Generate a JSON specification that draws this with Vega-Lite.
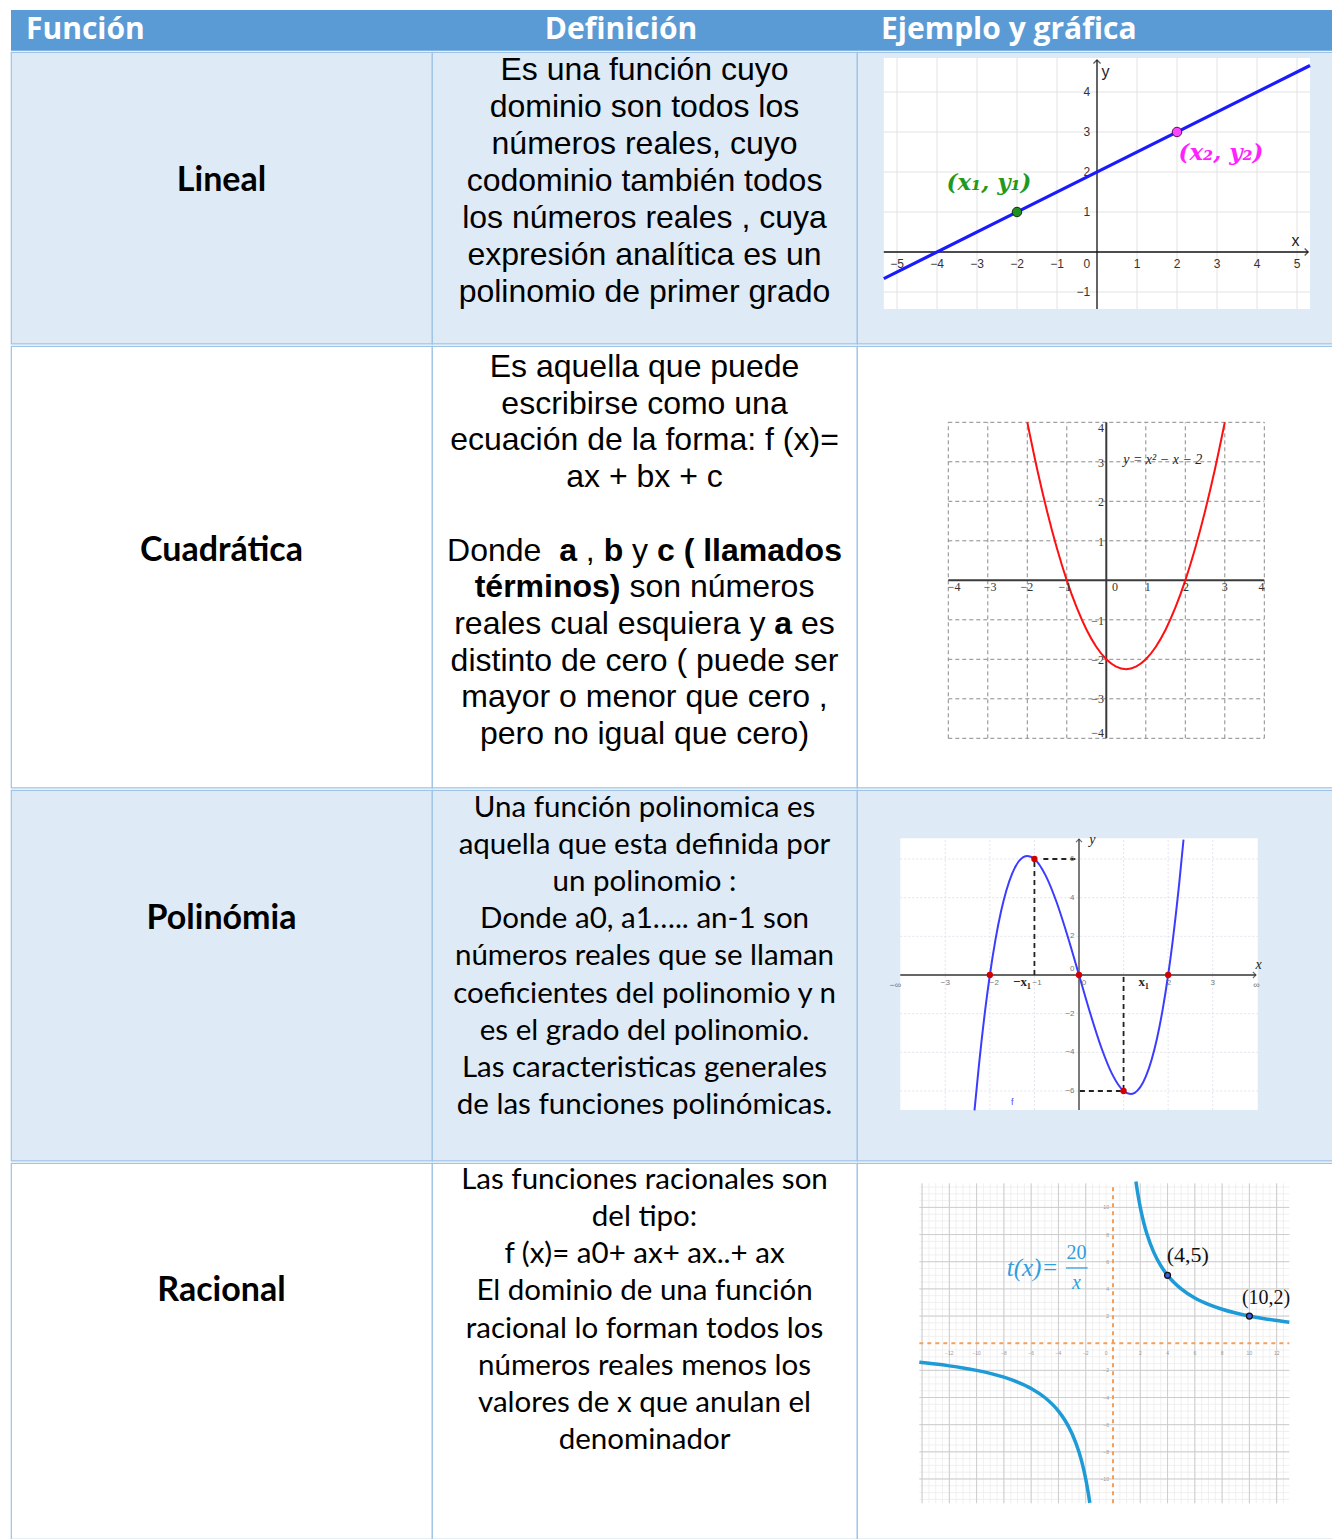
{
"$schema": "https://vega.github.io/schema/vega-lite/v6.json",
"padding": {"left": 10, "top": 10, "right": 0, "bottom": 0},
"background": "#ffffff",
"spacing": 0,
"config": {"view": {"stroke": "#9DC3E6", "strokeWidth": 1.2}, "axis": {"disable": true}, "concat": {"spacing": 0}, "text": {"font": "Liberation Sans"}},
"vconcat": [
{"spacing": 0, "bounds": "flush", "hconcat": [
 {"width": 421, "height": 40.8, "view": {"fill": "#5B9BD5", "stroke": null}, "data": {"values": [{"t": "Función"}]},
  "mark": {"type": "text", "font": "Open Sans", "fontWeight": "bold", "fontSize": 30, "color": "#ffffff", "align": "left", "baseline": "middle", "dx": -195.5},
  "encoding": {"text": {"field": "t", "type": "nominal"}}},
 {"width": 425, "height": 40.8, "view": {"fill": "#5B9BD5", "stroke": null}, "data": {"values": [{"t": "Definición"}]},
  "mark": {"type": "text", "font": "Open Sans", "fontWeight": "bold", "fontSize": 30, "color": "#ffffff", "align": "center", "baseline": "middle", "dx": -23.5},
  "encoding": {"text": {"field": "t", "type": "nominal"}}},
 {"width": 476, "height": 40.8, "view": {"fill": "#5B9BD5", "stroke": null}, "data": {"values": [{"t": "Ejemplo y gráfica"}]},
  "mark": {"type": "text", "font": "Open Sans", "fontWeight": "bold", "fontSize": 30, "color": "#ffffff", "align": "left", "baseline": "middle", "dx": -214},
  "encoding": {"text": {"field": "t", "type": "nominal"}}}
]},
{"spacing": 0, "bounds": "flush", "hconcat": [
 {"width": 421, "height": 291.6, "view": {"fill": "#DEEAF6", "stroke": "#9DC3E6"}, "data": {"values": [{"line": 3, "t": "Lineal"}]},
  "mark": {"type": "text", "font": "Lato", "fontWeight": "bold", "fontSize": 34, "color": "#000000", "baseline": "middle"},
  "encoding": {"y": {"field": "line", "type": "quantitative", "scale": {"domain": [-0.4865, 7.395], "reverse": true, "nice": false, "zero": false}, "axis": null}, "text": {"field": "t", "type": "nominal"}}},
 {"width": 425, "height": 291.6, "view": {"fill": "#DEEAF6", "stroke": "#9DC3E6"}, "data": {"values": [
   {"line": 0, "t": "Es una función cuyo"},
   {"line": 1, "t": "dominio son todos los"},
   {"line": 2, "t": "números reales, cuyo"},
   {"line": 3, "t": "codominio también todos"},
   {"line": 4, "t": "los números reales , cuya"},
   {"line": 5, "t": "expresión analítica es un"},
   {"line": 6, "t": "polinomio de primer grado"}]},
  "mark": {"type": "text", "font": "Liberation Sans", "fontSize": 32, "color": "#000000", "baseline": "middle"},
  "encoding": {"y": {"field": "line", "type": "quantitative", "scale": {"domain": [-0.4865, 7.395], "reverse": true, "nice": false, "zero": false}, "axis": null}, "text": {"field": "t", "type": "nominal"}}},
 {"width": 476, "height": 291.6, "view": {"fill": "#DEEAF6", "stroke": "#9DC3E6"}, "layer": [
  {"data": {"values": [{"x": -5.33, "x2": 5.325, "y": -1.425, "y2": 4.85}]}, "mark": {"type": "rect", "color": "#ffffff"},
   "encoding": {"x": {"field": "x", "type": "quantitative", "scale": {"domain": [-6, 5.9], "nice": false, "zero": false}, "axis": null}, "x2": {"field": "x2"},
    "y": {"field": "y", "type": "quantitative", "scale": {"domain": [-2.29, 5], "nice": false, "zero": false}, "axis": null}, "y2": {"field": "y2"}}},
  {"data": {"values": [{"x": -5}, {"x": -4}, {"x": -3}, {"x": -2}, {"x": -1}, {"x": 1}, {"x": 2}, {"x": 3}, {"x": 4}, {"x": 5}]}, "mark": {"type": "rule", "color": "#e3e3e3", "strokeWidth": 1},
   "encoding": {"x": {"field": "x", "type": "quantitative", "axis": null}, "y": {"datum": -1.425, "axis": null}, "y2": {"datum": 4.85}}},
  {"data": {"values": [{"y": -1}, {"y": 1}, {"y": 2}, {"y": 3}, {"y": 4}]}, "mark": {"type": "rule", "color": "#e3e3e3", "strokeWidth": 1},
   "encoding": {"y": {"field": "y", "type": "quantitative", "axis": null}, "x": {"datum": -5.33, "axis": null}, "x2": {"datum": 5.325}}},
  {"data": {"values": [{"x": -5.33, "y": 0, "x2": 5.28, "y2": 0}, {"x": 0, "y": -1.425, "x2": 0, "y2": 4.8}]}, "mark": {"type": "rule", "color": "#111111", "strokeWidth": 1.3},
   "encoding": {"x": {"field": "x", "type": "quantitative", "axis": null}, "y": {"field": "y", "type": "quantitative", "axis": null}, "x2": {"field": "x2"}, "y2": {"field": "y2"}}},
  {"data": {"values": [{"x": 5.28, "y": 0}]}, "mark": {"type": "point", "shape": "M-1,-1L0,0L-1,1", "filled": false, "color": "#111111", "size": 50, "strokeWidth": 1.3},
   "encoding": {"x": {"field": "x", "type": "quantitative", "axis": null}, "y": {"field": "y", "type": "quantitative", "axis": null}}},
  {"data": {"values": [{"x": 0, "y": 4.8}]}, "mark": {"type": "point", "shape": "M-1,1L0,0L1,1", "filled": false, "color": "#111111", "size": 50, "strokeWidth": 1.3},
   "encoding": {"x": {"field": "x", "type": "quantitative", "axis": null}, "y": {"field": "y", "type": "quantitative", "axis": null}}},
  {"data": {"values": [{"x": -5.33, "y": -0.665}, {"x": 5.325, "y": 4.6625}]}, "mark": {"type": "line", "color": "#1a1aff", "strokeWidth": 3.2},
   "encoding": {"x": {"field": "x", "type": "quantitative", "axis": null}, "y": {"field": "y", "type": "quantitative", "axis": null}}},
  {"data": {"values": [{"x": -2, "y": 1}]}, "mark": {"type": "point", "filled": true, "fill": "#1f8f1f", "stroke": "#0b330b", "strokeWidth": 1, "size": 90, "opacity": 1},
   "encoding": {"x": {"field": "x", "type": "quantitative", "axis": null}, "y": {"field": "y", "type": "quantitative", "axis": null}}},
  {"data": {"values": [{"x": 2, "y": 3}]}, "mark": {"type": "point", "filled": true, "fill": "#ff44ff", "stroke": "#551155", "strokeWidth": 1, "size": 90, "opacity": 1},
   "encoding": {"x": {"field": "x", "type": "quantitative", "axis": null}, "y": {"field": "y", "type": "quantitative", "axis": null}}},
  {"data": {"values": [{"x": -2.7, "y": 1.72, "t": "(x₁, y₁)"}]}, "mark": {"type": "text", "font": "DejaVu Serif", "fontStyle": "italic", "fontWeight": "bold", "fontSize": 23, "color": "#1f9a1f", "baseline": "middle"},
   "encoding": {"x": {"field": "x", "type": "quantitative", "axis": null}, "y": {"field": "y", "type": "quantitative", "axis": null}, "text": {"field": "t", "type": "nominal"}}},
  {"data": {"values": [{"x": 3.1, "y": 2.48, "t": "(x₂, y₂)"}]}, "mark": {"type": "text", "font": "DejaVu Serif", "fontStyle": "italic", "fontWeight": "bold", "fontSize": 23, "color": "#ff22ff", "baseline": "middle"},
   "encoding": {"x": {"field": "x", "type": "quantitative", "axis": null}, "y": {"field": "y", "type": "quantitative", "axis": null}, "text": {"field": "t", "type": "nominal"}}},
  {"data": {"values": [{"x": -5, "t": "−5"}, {"x": -4, "t": "−4"}, {"x": -3, "t": "−3"}, {"x": -2, "t": "−2"}, {"x": -1, "t": "−1"}, {"x": 1, "t": "1"}, {"x": 2, "t": "2"}, {"x": 3, "t": "3"}, {"x": 4, "t": "4"}, {"x": 5, "t": "5"}]},
   "mark": {"type": "text", "font": "Liberation Sans", "fontSize": 12, "color": "#333333", "baseline": "middle"},
   "encoding": {"x": {"field": "x", "type": "quantitative", "axis": null}, "y": {"datum": -0.29, "axis": null}, "text": {"field": "t", "type": "nominal"}}},
  {"data": {"values": [{"y": 4, "t": "4"}, {"y": 3, "t": "3"}, {"y": 2, "t": "2"}, {"y": 1, "t": "1"}, {"y": -0.29, "t": "0"}, {"y": -1, "t": "−1"}]},
   "mark": {"type": "text", "font": "Liberation Sans", "fontSize": 12, "color": "#333333", "baseline": "middle", "align": "right"},
   "encoding": {"y": {"field": "y", "type": "quantitative", "axis": null}, "x": {"datum": -0.17, "axis": null}, "text": {"field": "t", "type": "nominal"}}},
  {"data": {"values": [{"x": 4.96, "y": 0.28, "t": "x"}, {"x": 0.21, "y": 4.5, "t": "y"}]},
   "mark": {"type": "text", "font": "Liberation Sans", "fontSize": 16, "color": "#222222", "baseline": "middle"},
   "encoding": {"x": {"field": "x", "type": "quantitative", "axis": null}, "y": {"field": "y", "type": "quantitative", "axis": null}, "text": {"field": "t", "type": "nominal"}}}
 ]}
]},
{"spacing": 0, "bounds": "flush", "hconcat": [
 {"width": 421, "height": 441.6, "view": {"fill": "#ffffff", "stroke": "#9DC3E6"}, "data": {"values": [{"line": 5, "t": "Cuadrática"}]},
  "mark": {"type": "text", "font": "Lato", "fontWeight": "bold", "fontSize": 34, "color": "#000000", "baseline": "middle"},
  "encoding": {"y": {"field": "line", "type": "quantitative", "scale": {"domain": [-0.5722, 11.46], "reverse": true, "nice": false, "zero": false}, "axis": null}, "text": {"field": "t", "type": "nominal"}}},
 {"width": 425, "height": 441.6, "view": {"fill": "#ffffff", "stroke": "#9DC3E6"}, "data": {"values": [
   {"line": 0, "seg": "full", "t": "Es aquella que puede"},
   {"line": 1, "seg": "full", "t": "escribirse como una"},
   {"line": 2, "seg": "full", "t": "ecuación de la forma: f (x)="},
   {"line": 3, "seg": "full", "t": "ax + bx + c"},
   {"line": 5, "seg": "s1", "t": "Donde"},
   {"line": 5, "seg": "s2", "t": "a"},
   {"line": 5, "seg": "s3", "t": ","},
   {"line": 5, "seg": "s4", "t": "b"},
   {"line": 5, "seg": "s5", "t": "y"},
   {"line": 5, "seg": "s6", "t": "c ( llamados"},
   {"line": 6, "seg": "s7", "t": "términos)"},
   {"line": 6, "seg": "s8", "t": "son números"},
   {"line": 7, "seg": "s9", "t": "reales cual esquiera y"},
   {"line": 7, "seg": "s10", "t": "a"},
   {"line": 7, "seg": "s11", "t": "es"},
   {"line": 8, "seg": "full", "t": "distinto de cero ( puede ser"},
   {"line": 9, "seg": "full", "t": "mayor o menor que cero ,"},
   {"line": 10, "seg": "full", "t": "pero no igual que cero)"}]},
  "encoding": {"y": {"field": "line", "type": "quantitative", "scale": {"domain": [-0.5722, 11.46], "reverse": true, "nice": false, "zero": false}, "axis": null}, "text": {"field": "t", "type": "nominal"}},
  "layer": [
   {"transform": [{"filter": "datum.seg === 'full'"}], "mark": {"type": "text", "font": "Liberation Sans", "fontSize": 32, "color": "#000000", "baseline": "middle"}},
   {"transform": [{"filter": "datum.seg === 's1'"}], "mark": {"type": "text", "font": "Liberation Sans", "fontSize": 32, "color": "#000000", "baseline": "middle", "align": "left", "dx": -197.4}},
   {"transform": [{"filter": "datum.seg === 's2'"}], "mark": {"type": "text", "font": "Liberation Sans", "fontWeight": "bold", "fontSize": 32, "color": "#000000", "baseline": "middle", "align": "left", "dx": -85.35}},
   {"transform": [{"filter": "datum.seg === 's3'"}], "mark": {"type": "text", "font": "Liberation Sans", "fontSize": 32, "color": "#000000", "baseline": "middle", "align": "left", "dx": -58.66}},
   {"transform": [{"filter": "datum.seg === 's4'"}], "mark": {"type": "text", "font": "Liberation Sans", "fontWeight": "bold", "fontSize": 32, "color": "#000000", "baseline": "middle", "align": "left", "dx": -40.87}},
   {"transform": [{"filter": "datum.seg === 's5'"}], "mark": {"type": "text", "font": "Liberation Sans", "fontSize": 32, "color": "#000000", "baseline": "middle", "align": "left", "dx": -12.42}},
   {"transform": [{"filter": "datum.seg === 's6'"}], "mark": {"type": "text", "font": "Liberation Sans", "fontWeight": "bold", "fontSize": 32, "color": "#000000", "baseline": "middle", "align": "left", "dx": 12.47}},
   {"transform": [{"filter": "datum.seg === 's7'"}], "mark": {"type": "text", "font": "Liberation Sans", "fontWeight": "bold", "fontSize": 32, "color": "#000000", "baseline": "middle", "align": "left", "dx": -169.8}},
   {"transform": [{"filter": "datum.seg === 's8'"}], "mark": {"type": "text", "font": "Liberation Sans", "fontSize": 32, "color": "#000000", "baseline": "middle", "align": "left", "dx": -15.1}},
   {"transform": [{"filter": "datum.seg === 's9'"}], "mark": {"type": "text", "font": "Liberation Sans", "fontSize": 32, "color": "#000000", "baseline": "middle", "align": "left", "dx": -190.3}},
   {"transform": [{"filter": "datum.seg === 's10'"}], "mark": {"type": "text", "font": "Liberation Sans", "fontWeight": "bold", "fontSize": 32, "color": "#000000", "baseline": "middle", "align": "left", "dx": 129.8}},
   {"transform": [{"filter": "datum.seg === 's11'"}], "mark": {"type": "text", "font": "Liberation Sans", "fontSize": 32, "color": "#000000", "baseline": "middle", "align": "left", "dx": 156.5}}
  ]},
 {"width": 476, "height": 441.6, "view": {"fill": "#ffffff", "stroke": "#9DC3E6"}, "layer": [
  {"data": {"values": [{"x": -4}, {"x": -3}, {"x": -2}, {"x": -1}, {"x": 1}, {"x": 2}, {"x": 3}, {"x": 4}]}, "mark": {"type": "rule", "color": "#8a8a8a", "strokeWidth": 1, "strokeDash": [4, 3]},
   "encoding": {"x": {"field": "x", "type": "quantitative", "scale": {"domain": [-6.311, 5.739], "nice": false, "zero": false}, "axis": null}, "y": {"datum": -4, "scale": {"domain": [-5.248, 5.932], "nice": false, "zero": false}, "axis": null}, "y2": {"datum": 4}}},
  {"data": {"values": [{"y": -4}, {"y": -3}, {"y": -2}, {"y": -1}, {"y": 1}, {"y": 2}, {"y": 3}, {"y": 4}]}, "mark": {"type": "rule", "color": "#8a8a8a", "strokeWidth": 1, "strokeDash": [4, 3]},
   "encoding": {"y": {"field": "y", "type": "quantitative", "axis": null}, "x": {"datum": -4, "axis": null}, "x2": {"datum": 4}}},
  {"data": {"values": [{"x": -4, "y": 0, "x2": 4, "y2": 0}, {"x": 0, "y": -4, "x2": 0, "y2": 4}]}, "mark": {"type": "rule", "color": "#3a3a3a", "strokeWidth": 2},
   "encoding": {"x": {"field": "x", "type": "quantitative", "axis": null}, "y": {"field": "y", "type": "quantitative", "axis": null}, "x2": {"field": "x2"}, "y2": {"field": "y2"}}},
  {"data": {"values": [
    {"x": -2, "y": 4}, {"x": -1.75, "y": 2.8125}, {"x": -1.5, "y": 1.75}, {"x": -1.25, "y": 0.8125}, {"x": -1, "y": 0},
    {"x": -0.75, "y": -0.6875}, {"x": -0.5, "y": -1.25}, {"x": -0.25, "y": -1.6875}, {"x": 0, "y": -2}, {"x": 0.25, "y": -2.1875},
    {"x": 0.5, "y": -2.25}, {"x": 0.75, "y": -2.1875}, {"x": 1, "y": -2}, {"x": 1.25, "y": -1.6875}, {"x": 1.5, "y": -1.25},
    {"x": 1.75, "y": -0.6875}, {"x": 2, "y": 0}, {"x": 2.25, "y": 0.8125}, {"x": 2.5, "y": 1.75}, {"x": 2.75, "y": 2.8125}, {"x": 3, "y": 4}]},
   "mark": {"type": "line", "color": "#ff1010", "strokeWidth": 2, "interpolate": "monotone"},
   "encoding": {"x": {"field": "x", "type": "quantitative", "axis": null}, "y": {"field": "y", "type": "quantitative", "axis": null}}},
  {"data": {"values": [{"x": -3.85, "t": "−4"}, {"x": -2.94, "t": "−3"}, {"x": -2.01, "t": "−2"}, {"x": -1.05, "t": "−1"}, {"x": 0.22, "t": "0"}, {"x": 1.05, "t": "1"}, {"x": 2.02, "t": "2"}, {"x": 3.0, "t": "3"}, {"x": 3.93, "t": "4"}]},
   "mark": {"type": "text", "font": "Liberation Serif", "fontSize": 12, "color": "#333333", "baseline": "middle"},
   "encoding": {"x": {"field": "x", "type": "quantitative", "axis": null}, "y": {"datum": -0.17, "axis": null}, "text": {"field": "t", "type": "nominal"}}},
  {"data": {"values": [{"y": 3.86, "t": "4"}, {"y": 2.98, "t": "3"}, {"y": 1.97, "t": "2"}, {"y": 0.98, "t": "1"}, {"y": -1.02, "t": "−1"}, {"y": -2.02, "t": "−2"}, {"y": -3.0, "t": "−3"}, {"y": -3.87, "t": "−4"}]},
   "mark": {"type": "text", "font": "Liberation Serif", "fontSize": 12, "color": "#333333", "baseline": "middle", "align": "right"},
   "encoding": {"y": {"field": "y", "type": "quantitative", "axis": null}, "x": {"datum": -0.06, "axis": null}, "text": {"field": "t", "type": "nominal"}}},
  {"data": {"values": [{"x": 1.43, "y": 3.05, "t": "y = x² − x − 2"}]},
   "mark": {"type": "text", "font": "Liberation Serif", "fontStyle": "italic", "fontSize": 14, "color": "#222222", "baseline": "middle"},
   "encoding": {"x": {"field": "x", "type": "quantitative", "axis": null}, "y": {"field": "y", "type": "quantitative", "axis": null}, "text": {"field": "t", "type": "nominal"}}}
 ]}
]},
{"spacing": 0, "bounds": "flush", "hconcat": [
 {"width": 421, "height": 370.6, "view": {"fill": "#DEEAF6", "stroke": "#9DC3E6"}, "data": {"values": [{"line": 3, "t": "Polinómia"}]},
  "mark": {"type": "text", "font": "Lato", "fontWeight": "bold", "fontSize": 34, "color": "#000000", "baseline": "middle"},
  "encoding": {"y": {"field": "line", "type": "quantitative", "scale": {"domain": [-0.4848, 9.498], "reverse": true, "nice": false, "zero": false}, "axis": null}, "text": {"field": "t", "type": "nominal"}}},
 {"width": 425, "height": 370.6, "view": {"fill": "#DEEAF6", "stroke": "#9DC3E6"}, "data": {"values": [
   {"line": 0, "t": "Una función polinomica es"},
   {"line": 1, "t": "aquella que esta definida por"},
   {"line": 2, "t": "un polinomio :"},
   {"line": 3, "t": "Donde a0, a1….. an-1 son"},
   {"line": 4, "t": "números reales que se llaman"},
   {"line": 5, "t": "coeficientes del polinomio y n"},
   {"line": 6, "t": "es el grado del polinomio."},
   {"line": 7, "t": " Las caracteristicas generales"},
   {"line": 8, "t": "de las funciones polinómicas."}]},
  "mark": {"type": "text", "font": "Lato", "fontSize": 29.5, "color": "#000000", "baseline": "middle"},
  "encoding": {"y": {"field": "line", "type": "quantitative", "scale": {"domain": [-0.4848, 9.498], "reverse": true, "nice": false, "zero": false}, "axis": null}, "text": {"field": "t", "type": "nominal"}}},
 {"width": 476, "height": 370.6, "view": {"fill": "#DEEAF6", "stroke": "#9DC3E6"}, "layer": [
  {"data": {"values": [{"x": -4.01, "x2": 4.01, "y": -6.98, "y2": 7.07}]}, "mark": {"type": "rect", "color": "#ffffff"},
   "encoding": {"x": {"field": "x", "type": "quantitative", "scale": {"domain": [-4.981, 5.699], "nice": false, "zero": false}, "axis": null}, "x2": {"field": "x2"},
    "y": {"field": "y", "type": "quantitative", "scale": {"domain": [-9.602, 9.571], "nice": false, "zero": false}, "axis": null}, "y2": {"field": "y2"}}},
  {"data": {"values": [{"x": -3}, {"x": -2}, {"x": -1}, {"x": 1}, {"x": 2}, {"x": 3}]}, "mark": {"type": "rule", "color": "#e2e2f0", "strokeWidth": 1, "strokeDash": [2, 2]},
   "encoding": {"x": {"field": "x", "type": "quantitative", "axis": null}, "y": {"datum": -6.98, "axis": null}, "y2": {"datum": 7.07}}},
  {"data": {"values": [{"y": -6}, {"y": -4}, {"y": -2}, {"y": 2}, {"y": 4}, {"y": 6}]}, "mark": {"type": "rule", "color": "#e2e2f0", "strokeWidth": 1, "strokeDash": [2, 2]},
   "encoding": {"y": {"field": "y", "type": "quantitative", "axis": null}, "x": {"datum": -4.01, "axis": null}, "x2": {"datum": 4.01}}},
  {"data": {"values": [{"x": -4.01, "y": 0, "x2": 3.97, "y2": 0}, {"x": 0, "y": -6.98, "x2": 0, "y2": 7.03}]}, "mark": {"type": "rule", "color": "#333333", "strokeWidth": 1.3},
   "encoding": {"x": {"field": "x", "type": "quantitative", "axis": null}, "y": {"field": "y", "type": "quantitative", "axis": null}, "x2": {"field": "x2"}, "y2": {"field": "y2"}}},
  {"data": {"values": [{"x": 3.97, "y": 0}]}, "mark": {"type": "point", "shape": "M-1,-1L0,0L-1,1", "filled": false, "color": "#333333", "size": 36, "strokeWidth": 1.2},
   "encoding": {"x": {"field": "x", "type": "quantitative", "axis": null}, "y": {"field": "y", "type": "quantitative", "axis": null}}},
  {"data": {"values": [{"x": 0, "y": 7.03}]}, "mark": {"type": "point", "shape": "M-1,1L0,0L1,1", "filled": false, "color": "#333333", "size": 36, "strokeWidth": 1.2},
   "encoding": {"x": {"field": "x", "type": "quantitative", "axis": null}, "y": {"field": "y", "type": "quantitative", "axis": null}}},
  {"data": {"values": [{"x": -1, "y": 0, "x2": -1, "y2": 6}, {"x": -0.8, "y": 6, "x2": -0.04, "y2": 6}, {"x": 1, "y": -0.1, "x2": 1, "y2": -6}, {"x": 0.02, "y": -6, "x2": 0.95, "y2": -6}]},
   "mark": {"type": "rule", "color": "#222222", "strokeWidth": 1.8, "strokeDash": [5, 4]},
   "encoding": {"x": {"field": "x", "type": "quantitative", "axis": null}, "y": {"field": "y", "type": "quantitative", "axis": null}, "x2": {"field": "x2"}, "y2": {"field": "y2"}}},
  {"data": {"values": [
    {"x": -2.345, "y": -7.0}, {"x": -2.25, "y": -4.78}, {"x": -2.1, "y": -1.72}, {"x": -2, "y": 0}, {"x": -1.875, "y": 1.82}, {"x": -1.75, "y": 3.281}, {"x": -1.5, "y": 5.25},
    {"x": -1.25, "y": 6.094}, {"x": -1.155, "y": 6.158}, {"x": -1, "y": 6}, {"x": -0.75, "y": 5.156}, {"x": -0.5, "y": 3.75},
    {"x": -0.25, "y": 1.969}, {"x": 0, "y": 0}, {"x": 0.25, "y": -1.969}, {"x": 0.5, "y": -3.75}, {"x": 0.75, "y": -5.156},
    {"x": 1, "y": -6}, {"x": 1.155, "y": -6.158}, {"x": 1.25, "y": -6.094}, {"x": 1.5, "y": -5.25}, {"x": 1.75, "y": -3.281},
    {"x": 1.875, "y": -1.82}, {"x": 2, "y": 0}, {"x": 2.1, "y": 1.72}, {"x": 2.25, "y": 4.78}, {"x": 2.345, "y": 7.0}]},
   "mark": {"type": "line", "color": "#3c3cff", "strokeWidth": 2, "interpolate": "monotone"},
   "encoding": {"x": {"field": "x", "type": "quantitative", "axis": null}, "y": {"field": "y", "type": "quantitative", "axis": null}}},
  {"data": {"values": [{"x": -2, "y": 0}, {"x": 0, "y": 0}, {"x": 2, "y": 0}, {"x": -1, "y": 6}, {"x": 1, "y": -6}]},
   "mark": {"type": "point", "filled": true, "color": "#d40000", "size": 40, "opacity": 1},
   "encoding": {"x": {"field": "x", "type": "quantitative", "axis": null}, "y": {"field": "y", "type": "quantitative", "axis": null}}},
  {"data": {"values": [{"x": -3, "t": "−3"}, {"x": -1.9, "t": "−2"}, {"x": -0.94, "t": "−1"}, {"x": 0.11, "t": "0"}, {"x": 2.02, "t": "2"}, {"x": 3.0, "t": "3"}]},
   "mark": {"type": "text", "font": "Liberation Sans", "fontSize": 8, "color": "#777777", "baseline": "middle"},
   "encoding": {"x": {"field": "x", "type": "quantitative", "axis": null}, "y": {"datum": -0.42, "axis": null}, "text": {"field": "t", "type": "nominal"}}},
  {"data": {"values": [{"y": 6, "t": "6"}, {"y": 4, "t": "4"}, {"y": 2, "t": "2"}, {"y": 0.3, "t": "0"}, {"y": -2, "t": "−2"}, {"y": -4, "t": "−4"}, {"y": -6, "t": "−6"}]},
   "mark": {"type": "text", "font": "Liberation Sans", "fontSize": 8, "color": "#777777", "baseline": "middle", "align": "right"},
   "encoding": {"y": {"field": "y", "type": "quantitative", "axis": null}, "x": {"datum": -0.1, "axis": null}, "text": {"field": "t", "type": "nominal"}}},
  {"data": {"values": [{"x": -1.28, "y": -0.36, "t": "−x₁"}, {"x": 1.45, "y": -0.36, "t": "x₁"}]},
   "mark": {"type": "text", "font": "Liberation Serif", "fontWeight": "bold", "fontSize": 13, "color": "#222222", "baseline": "middle"},
   "encoding": {"x": {"field": "x", "type": "quantitative", "axis": null}, "y": {"field": "y", "type": "quantitative", "axis": null}, "text": {"field": "t", "type": "nominal"}}},
  {"data": {"values": [{"x": -4.12, "y": -0.5, "t": "−∞"}, {"x": 3.98, "y": -0.5, "t": "∞"}]},
   "mark": {"type": "text", "font": "Liberation Sans", "fontSize": 9, "color": "#777777", "baseline": "middle"},
   "encoding": {"x": {"field": "x", "type": "quantitative", "axis": null}, "y": {"field": "y", "type": "quantitative", "axis": null}, "text": {"field": "t", "type": "nominal"}}},
  {"data": {"values": [{"x": 4.03, "y": 0.5, "t": "x"}, {"x": 0.3, "y": 7.0, "t": "y"}]},
   "mark": {"type": "text", "font": "Liberation Serif", "fontStyle": "italic", "fontSize": 14, "color": "#222222", "baseline": "middle"},
   "encoding": {"x": {"field": "x", "type": "quantitative", "axis": null}, "y": {"field": "y", "type": "quantitative", "axis": null}, "text": {"field": "t", "type": "nominal"}}},
  {"data": {"values": [{"x": -1.5, "y": -6.55, "t": "f"}]},
   "mark": {"type": "text", "font": "Liberation Sans", "fontSize": 9, "color": "#4a4aff", "baseline": "middle"},
   "encoding": {"x": {"field": "x", "type": "quantitative", "axis": null}, "y": {"field": "y", "type": "quantitative", "axis": null}, "text": {"field": "t", "type": "nominal"}}}
 ]}
]},
{"spacing": 0, "bounds": "flush", "hconcat": [
 {"width": 421, "height": 376, "view": {"fill": "#ffffff", "stroke": "#9DC3E6"}, "data": {"values": [{"line": 3, "t": "Racional"}]},
  "mark": {"type": "text", "font": "Lato", "fontWeight": "bold", "fontSize": 34, "color": "#000000", "baseline": "middle"},
  "encoding": {"y": {"field": "line", "type": "quantitative", "scale": {"domain": [-0.4577, 9.666], "reverse": true, "nice": false, "zero": false}, "axis": null}, "text": {"field": "t", "type": "nominal"}}},
 {"width": 425, "height": 376, "view": {"fill": "#ffffff", "stroke": "#9DC3E6"}, "data": {"values": [
   {"line": 0, "t": "Las funciones racionales son"},
   {"line": 1, "t": "del tipo:"},
   {"line": 2, "t": "f (x)= a0+ ax+ ax..+ ax"},
   {"line": 3, "t": "El dominio de una función"},
   {"line": 4, "t": "racional  lo forman todos los"},
   {"line": 5, "t": "números reales menos los"},
   {"line": 6, "t": "valores de x que anulan el"},
   {"line": 7, "t": "denominador"}]},
  "mark": {"type": "text", "font": "Lato", "fontSize": 29.5, "color": "#000000", "baseline": "middle"},
  "encoding": {"y": {"field": "line", "type": "quantitative", "scale": {"domain": [-0.4577, 9.666], "reverse": true, "nice": false, "zero": false}, "axis": null}, "text": {"field": "t", "type": "nominal"}}},
 {"width": 476, "height": 376, "view": {"fill": "#ffffff", "stroke": "#9DC3E6"}, "layer": [
  {"data": {"values": [{"v": -14}, {"v": -13.5}, {"v": -13}, {"v": -12.5}, {"v": -12}, {"v": -11.5}, {"v": -11}, {"v": -10.5}, {"v": -10}, {"v": -9.5}, {"v": -9}, {"v": -8.5}, {"v": -8}, {"v": -7.5}, {"v": -7}, {"v": -6.5}, {"v": -6}, {"v": -5.5}, {"v": -5}, {"v": -4.5}, {"v": -4}, {"v": -3.5}, {"v": -3}, {"v": -2.5}, {"v": -2}, {"v": -1.5}, {"v": -1}, {"v": -0.5}, {"v": 0.5}, {"v": 1}, {"v": 1.5}, {"v": 2}, {"v": 2.5}, {"v": 3}, {"v": 3.5}, {"v": 4}, {"v": 4.5}, {"v": 5}, {"v": 5.5}, {"v": 6}, {"v": 6.5}, {"v": 7}, {"v": 7.5}, {"v": 8}, {"v": 8.5}, {"v": 9}, {"v": 9.5}, {"v": 10}, {"v": 10.5}, {"v": 11}, {"v": 11.5}, {"v": 12}, {"v": 12.5}]},
   "mark": {"type": "rule", "color": "#ececec", "strokeWidth": 0.8},
   "encoding": {"x": {"field": "v", "type": "quantitative", "scale": {"domain": [-18.77, 16.13], "nice": false, "zero": false}, "axis": null}, "y": {"datum": -11.79, "scale": {"domain": [-14.42, 13.27], "nice": false, "zero": false}, "axis": null}, "y2": {"datum": 11.77}}},
  {"data": {"values": [{"v": -11.5}, {"v": -11}, {"v": -10.5}, {"v": -10}, {"v": -9.5}, {"v": -9}, {"v": -8.5}, {"v": -8}, {"v": -7.5}, {"v": -7}, {"v": -6.5}, {"v": -6}, {"v": -5.5}, {"v": -5}, {"v": -4.5}, {"v": -4}, {"v": -3.5}, {"v": -3}, {"v": -2.5}, {"v": -2}, {"v": -1.5}, {"v": -1}, {"v": -0.5}, {"v": 0.5}, {"v": 1}, {"v": 1.5}, {"v": 2}, {"v": 2.5}, {"v": 3}, {"v": 3.5}, {"v": 4}, {"v": 4.5}, {"v": 5}, {"v": 5.5}, {"v": 6}, {"v": 6.5}, {"v": 7}, {"v": 7.5}, {"v": 8}, {"v": 8.5}, {"v": 9}, {"v": 9.5}, {"v": 10}, {"v": 10.5}, {"v": 11}, {"v": 11.5}]},
   "mark": {"type": "rule", "color": "#ececec", "strokeWidth": 0.8},
   "encoding": {"y": {"field": "v", "type": "quantitative", "axis": null}, "x": {"datum": -14.2, "axis": null}, "x2": {"datum": 12.93}}},
  {"data": {"values": [{"v": -14}, {"v": -12}, {"v": -10}, {"v": -8}, {"v": -6}, {"v": -4}, {"v": -2}, {"v": 2}, {"v": 4}, {"v": 6}, {"v": 8}, {"v": 10}, {"v": 12}]},
   "mark": {"type": "rule", "color": "#cdcdcd", "strokeWidth": 1},
   "encoding": {"x": {"field": "v", "type": "quantitative", "axis": null}, "y": {"datum": -11.79, "axis": null}, "y2": {"datum": 11.77}}},
  {"data": {"values": [{"v": -10}, {"v": -8}, {"v": -6}, {"v": -4}, {"v": -2}, {"v": 2}, {"v": 4}, {"v": 6}, {"v": 8}, {"v": 10}]},
   "mark": {"type": "rule", "color": "#cdcdcd", "strokeWidth": 1},
   "encoding": {"y": {"field": "v", "type": "quantitative", "axis": null}, "x": {"datum": -14.2, "axis": null}, "x2": {"datum": 12.93}}},
  {"data": {"values": [{"x": -14.2, "y": 0, "x2": 12.93, "y2": 0}, {"x": 0, "y": -11.79, "x2": 0, "y2": 11.77}]},
   "mark": {"type": "rule", "color": "#f5a05a", "strokeWidth": 2, "strokeDash": [4, 4]},
   "encoding": {"x": {"field": "x", "type": "quantitative", "axis": null}, "y": {"field": "y", "type": "quantitative", "axis": null}, "x2": {"field": "x2"}, "y2": {"field": "y2"}}},
  {"data": {"values": [{"x": -12, "t": "−12"}, {"x": -10, "t": "−10"}, {"x": -8, "t": "−8"}, {"x": -6, "t": "−6"}, {"x": -4, "t": "−4"}, {"x": -2, "t": "−2"}, {"x": -0.5, "t": "0"}, {"x": 2, "t": "2"}, {"x": 4, "t": "4"}, {"x": 6, "t": "6"}, {"x": 8, "t": "8"}, {"x": 10, "t": "10"}, {"x": 12, "t": "12"}]},
   "mark": {"type": "text", "font": "Liberation Sans", "fontSize": 5, "color": "#999999", "baseline": "middle"},
   "encoding": {"x": {"field": "x", "type": "quantitative", "axis": null}, "y": {"datum": -0.7, "axis": null}, "text": {"field": "t", "type": "nominal"}}},
  {"data": {"values": [{"y": 10, "t": "10"}, {"y": 8, "t": "8"}, {"y": 6, "t": "6"}, {"y": 4, "t": "4"}, {"y": 2, "t": "2"}, {"y": -2, "t": "−2"}, {"y": -4, "t": "−4"}, {"y": -6, "t": "−6"}, {"y": -8, "t": "−8"}, {"y": -10, "t": "−10"}]},
   "mark": {"type": "text", "font": "Liberation Sans", "fontSize": 5, "color": "#999999", "baseline": "middle", "align": "right"},
   "encoding": {"y": {"field": "y", "type": "quantitative", "axis": null}, "x": {"datum": -0.3, "axis": null}, "text": {"field": "t", "type": "nominal"}}},
  {"data": {"values": [
    {"b": "r", "x": 1.68, "y": 11.9}, {"b": "r", "x": 1.8, "y": 11.11}, {"b": "r", "x": 2, "y": 10}, {"b": "r", "x": 2.25, "y": 8.89}, {"b": "r", "x": 2.5, "y": 8},
    {"b": "r", "x": 3, "y": 6.67}, {"b": "r", "x": 3.5, "y": 5.71}, {"b": "r", "x": 4, "y": 5}, {"b": "r", "x": 5, "y": 4}, {"b": "r", "x": 6, "y": 3.33},
    {"b": "r", "x": 7, "y": 2.86}, {"b": "r", "x": 8, "y": 2.5}, {"b": "r", "x": 9, "y": 2.22}, {"b": "r", "x": 10, "y": 2}, {"b": "r", "x": 11, "y": 1.82},
    {"b": "r", "x": 12, "y": 1.67}, {"b": "r", "x": 12.93, "y": 1.55},
    {"b": "l", "x": -14.2, "y": -1.41}, {"b": "l", "x": -13, "y": -1.54}, {"b": "l", "x": -12, "y": -1.67}, {"b": "l", "x": -11, "y": -1.82}, {"b": "l", "x": -10, "y": -2},
    {"b": "l", "x": -9, "y": -2.22}, {"b": "l", "x": -8, "y": -2.5}, {"b": "l", "x": -7, "y": -2.86}, {"b": "l", "x": -6, "y": -3.33}, {"b": "l", "x": -5, "y": -4},
    {"b": "l", "x": -4, "y": -5}, {"b": "l", "x": -3.5, "y": -5.71}, {"b": "l", "x": -3, "y": -6.67}, {"b": "l", "x": -2.5, "y": -8}, {"b": "l", "x": -2.25, "y": -8.89},
    {"b": "l", "x": -2, "y": -10}, {"b": "l", "x": -1.8, "y": -11.11}, {"b": "l", "x": -1.7, "y": -11.76}]},
   "mark": {"type": "line", "color": "#1e9bd7", "strokeWidth": 3.5, "interpolate": "monotone"},
   "encoding": {"x": {"field": "x", "type": "quantitative", "axis": null}, "y": {"field": "y", "type": "quantitative", "axis": null}, "detail": {"field": "b", "type": "nominal"}}},
  {"data": {"values": [{"x": 4, "y": 5}, {"x": 10, "y": 2}]},
   "mark": {"type": "point", "filled": true, "fill": "#3b5bdb", "stroke": "#111111", "strokeWidth": 1.3, "size": 35, "opacity": 1},
   "encoding": {"x": {"field": "x", "type": "quantitative", "axis": null}, "y": {"field": "y", "type": "quantitative", "axis": null}}},
  {"data": {"values": [{"x": 5.48, "y": 6.5, "t": "(4,5)"}]},
   "mark": {"type": "text", "font": "Liberation Serif", "fontSize": 22, "color": "#111111", "baseline": "middle"},
   "encoding": {"x": {"field": "x", "type": "quantitative", "axis": null}, "y": {"field": "y", "type": "quantitative", "axis": null}, "text": {"field": "t", "type": "nominal"}}},
  {"data": {"values": [{"x": 11.22, "y": 3.31, "t": "(10,2)"}]},
   "mark": {"type": "text", "font": "Liberation Serif", "fontSize": 20, "color": "#111111", "baseline": "middle"},
   "encoding": {"x": {"field": "x", "type": "quantitative", "axis": null}, "y": {"field": "y", "type": "quantitative", "axis": null}, "text": {"field": "t", "type": "nominal"}}},
  {"data": {"values": [{"x": -5.9, "y": 5.54, "t": "t(x)="}]},
   "mark": {"type": "text", "font": "Liberation Serif", "fontStyle": "italic", "fontSize": 25, "color": "#2f9fe0", "baseline": "middle"},
   "encoding": {"x": {"field": "x", "type": "quantitative", "axis": null}, "y": {"field": "y", "type": "quantitative", "axis": null}, "text": {"field": "t", "type": "nominal"}}},
  {"data": {"values": [{"x": -2.68, "y": 6.64, "t": "20"}]},
   "mark": {"type": "text", "font": "Liberation Serif", "fontSize": 20, "color": "#2f9fe0", "baseline": "middle"},
   "encoding": {"x": {"field": "x", "type": "quantitative", "axis": null}, "y": {"field": "y", "type": "quantitative", "axis": null}, "text": {"field": "t", "type": "nominal"}}},
  {"data": {"values": [{"x": -2.68, "y": 4.43, "t": "x"}]},
   "mark": {"type": "text", "font": "Liberation Serif", "fontStyle": "italic", "fontSize": 20, "color": "#2f9fe0", "baseline": "middle"},
   "encoding": {"x": {"field": "x", "type": "quantitative", "axis": null}, "y": {"field": "y", "type": "quantitative", "axis": null}, "text": {"field": "t", "type": "nominal"}}},
  {"data": {"values": [{"x": -3.45, "x2": -1.86, "y": 5.54}]},
   "mark": {"type": "rule", "color": "#2f9fe0", "strokeWidth": 1.3},
   "encoding": {"x": {"field": "x", "type": "quantitative", "axis": null}, "x2": {"field": "x2"}, "y": {"field": "y", "type": "quantitative", "axis": null}}}
 ]}
]}
]
}
